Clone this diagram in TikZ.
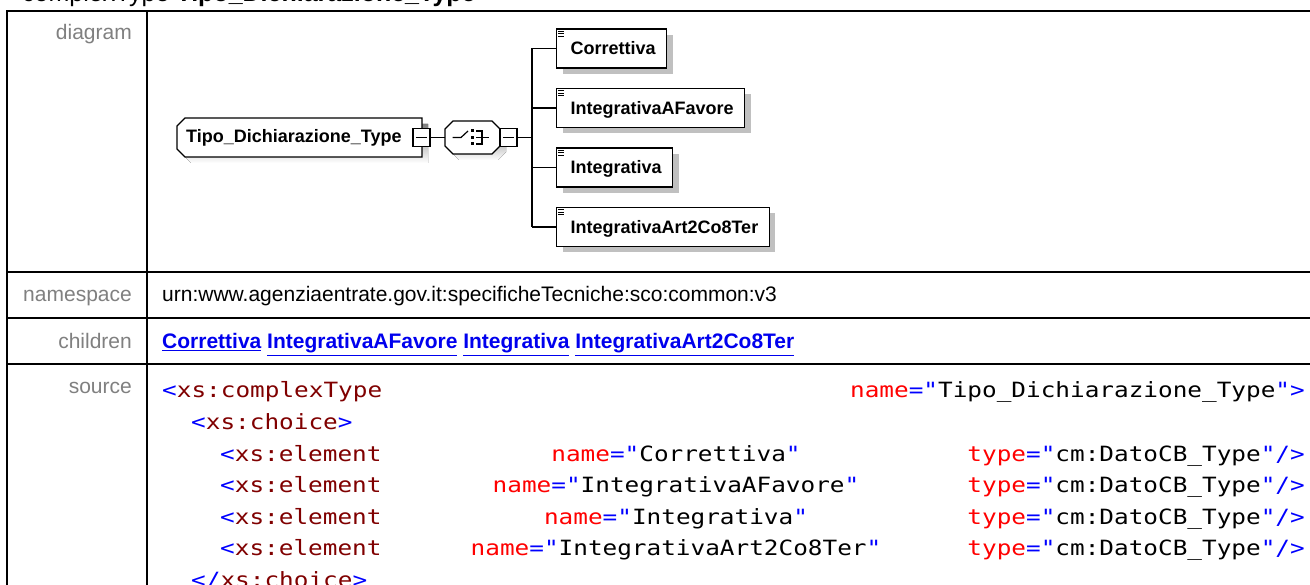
\documentclass[tikz,border=0pt]{standalone}
\usepackage{fontspec}
\setmainfont{Liberation Sans}
\newfontfamily\codefont[FakeStretch=1.16]{DejaVu Sans Mono}
\usetikzlibrary{calc,shadows}
\definecolor{xsblue}{RGB}{0,0,255}
\definecolor{xstag}{RGB}{128,0,0}
\definecolor{xsattr}{RGB}{255,0,0}
\definecolor{rowgray}{RGB}{128,128,128}
\definecolor{shade}{RGB}{192,192,192}
\definecolor{linkblue}{RGB}{0,0,238}
\newcommand{\xtag}[1]{\textcolor{xsblue}{<}\textcolor{xstag}{#1}}
\newcommand{\xatt}[2]{\textcolor{xsattr}{#1}\textcolor{xsblue}{="}#2\textcolor{xsblue}{"}}
\newcommand{\xlink}[1]{\underline{#1}}

\begin{document}
\begin{tikzpicture}[x=1pt, y=-1pt,
  grid/.style={line width=2pt},
  rowlabel/.style={anchor=base east, inner sep=0, text=rowgray, font=\fontsize{21}{25}\selectfont},
  rowtext/.style={anchor=base west, inner sep=0, font=\fontsize{21}{25}\selectfont},
  code/.style={inner sep=0, font=\codefont\fontsize{21}{25}\selectfont},
  elemline/.style={line width=1.1pt},
  link/.style={line width=1.2pt},
  minusbox/.style={draw, fill=white, line width=1.4pt, minimum width=17, minimum height=18, inner sep=0},
  childbox/.style={draw, fill=white, line width=1.1pt, anchor=west, minimum height=39,
    inner xsep=11, inner ysep=0, text height=14, text depth=1,
    font=\bfseries\fontsize{18}{22}\selectfont,
    drop shadow={shadow xshift=6pt, shadow yshift=-6pt, fill=shade, opacity=1}}]
\useasboundingbox (0,0) rectangle (1310,585);
\clip (0,0) rectangle (1310,585);
\fill[white] (0,0) rectangle (1310,585);

% title, cut at the top edge
\node[anchor=base west, inner sep=0, font=\fontsize{25}{30}\selectfont] (title) at (22,2) {complexType \textbf{Tipo\_Dichiarazione\_Type}};

% table
\draw[grid] (1320,11) -- (7,11) -- (7,600);
\draw[grid] (147,11) -- (147,600);
\foreach \y in {272.3,318,364} \draw[grid] (7,\y) -- (1320,\y);

\node[rowlabel] (lbldiagram) at (132,40) {diagram};
\node[rowlabel] (lblns) at (132,302) {namespace};
\node[rowlabel] (lblchildren) at (132,349) {children};
\node[rowlabel] (lblsource) at (132,394) {source};

\node[rowtext] (ns) at (162,302) {urn:www.agenziaentrate.gov.it:specificheTecniche:sco:common:v3};
\node[rowtext, text=linkblue, font=\bfseries\fontsize{21}{25}\selectfont] (children) at (162,349)
  {\xlink{Correttiva} \xlink{IntegrativaAFavore} \xlink{Integrativa} \xlink{IntegrativaArt2Co8Ter}};

% source
\node[code, anchor=base west] (src1) at (162,398) {\xtag{xs:complexType}};
\node[code, anchor=base east] (src1n) at (1305,398) {\xatt{name}{Tipo\_Dichiarazione\_Type}\textcolor{xsblue}{>}};
\node[code, anchor=base west] (src2) at (191,429.5) {\xtag{xs:choice}\textcolor{xsblue}{>}};
\foreach \nm [count=\i] in {Correttiva,IntegrativaAFavore,Integrativa,IntegrativaArt2Co8Ter} {
  \node[code, anchor=base west] (el\i) at (220,{461+31.5*(\i-1)}) {\xtag{xs:element}};
  \node[code, anchor=base] (nm\i) at (676,{461+31.5*(\i-1)}) {\xatt{name}{\nm}};
  \node[code, anchor=base east] (ty\i) at (1305,{461+31.5*(\i-1)}) {\xatt{type}{cm:DatoCB\_Type}\textcolor{xsblue}{/>}};
}
\node[code, anchor=base west] (src7) at (191,587) {\textcolor{xsblue}{</}\textcolor{xstag}{xs:choice}\textcolor{xsblue}{>}};

% diagram: root element
\fill[shade] (191,124) -- (428,124) -- (428,163) -- (191,163) -- (183,155) -- (183,132) -- cycle;
\draw[elemline, fill=white] (185,118) -- (422,118) -- (422,157) -- (185,157) -- (177,149) -- (177,126) -- cycle;
\node[anchor=base west, inner sep=0, font=\bfseries\fontsize{18}{22}\selectfont] (root) at (186,143) {Tipo\_Dichiarazione\_Type};
\node[minusbox] (rm) at (421.5,137.5) {};
\draw[link] ($(rm.west)+(3.5,0)$) -- ($(rm.east)+(-3.5,0)$);

% choice compositor
\node[inner sep=0, minimum width=55, minimum height=33] (choice) at (472.5,137.5) {};
\fill[shade] (459,127) -- (498,127) -- (506,135) -- (506,152) -- (498,160) -- (459,160) -- (451,152) -- (451,135) -- cycle;
\draw[elemline, fill=white] (453,121) -- (492,121) -- (500,129) -- (500,146) -- (492,154) -- (453,154) -- (445,146) -- (445,129) -- cycle;
\draw[link] (452.5,137.5) -- (461,137.5) -- (468,131);
\foreach \d in {131,137.5,144} \fill (470.5,\d-1.5) rectangle (473.5,\d+1.5);
\draw[link] (476,131) -- (482,131) -- (482,144) -- (476,144);
\draw[link] (476,137.5) -- (489,137.5);
\node[minusbox] (cm) at (508.5,137.5) {};
\draw[link] ($(cm.west)+(3.5,0)$) -- ($(cm.east)+(-3.5,0)$);
\draw[link] (rm.east) -- (choice.west);

% children
\foreach \nm [count=\i] in {Correttiva,IntegrativaAFavore,Integrativa,IntegrativaArt2Co8Ter}
  \node[childbox] (c\i) at (556,{48.5+59.5*(\i-1)}) {\hspace*{3pt}\nm};
\foreach \i in {1,...,4}
  \foreach \d in {3,5.5,8}
    \draw[line width=0.9pt] ([xshift=2pt, yshift=-\d pt]c\i.north west) -- ++(6,0);

\coordinate (fork) at (532,137.5);
\draw[link] (cm.east) -- (fork);
\draw[link] (fork |- c1.west) -- (fork |- c4.west);
\foreach \i in {1,...,4} \draw[link] (fork |- c\i.west) -- (c\i.west);
\end{tikzpicture}
\end{document}
